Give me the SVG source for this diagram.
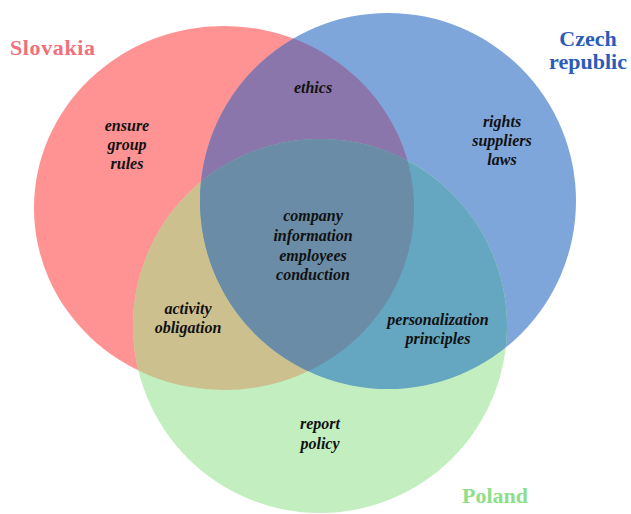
<svg xmlns="http://www.w3.org/2000/svg" width="631" height="514" viewBox="0 0 631 514">
<style>
.lbl{font-family:"Liberation Serif","DejaVu Serif",serif;font-weight:bold;font-style:italic;font-size:16px;fill:#111;text-anchor:middle}
.set{font-family:"Liberation Serif","DejaVu Serif",serif;font-weight:bold;font-size:22px}
</style>
<defs>
<clipPath id="cR"><ellipse cx="224" cy="208" rx="190" ry="182"/></clipPath>
<clipPath id="cB"><circle cx="388" cy="201" r="188"/></clipPath>
<clipPath id="cG"><circle cx="320" cy="326" r="187"/></clipPath>
</defs>
<rect width="631" height="514" fill="#ffffff"/>
<g id="sets">
<ellipse id="slovakia" cx="224" cy="208" rx="190" ry="182" fill="#FF9292"/>
<circle id="czech" cx="388" cy="201" r="188" fill="#7FA6DB"/>
<circle id="poland" cx="320" cy="326" r="187" fill="#C2EEC0"/>
<g clip-path="url(#cR)"><circle cx="388" cy="201" r="188" fill="#8B76AB"/><circle cx="320" cy="326" r="187" fill="#CBC08E"/></g>
<g clip-path="url(#cB)"><circle cx="320" cy="326" r="187" fill="#65A6C0"/></g>
<g clip-path="url(#cR)"><g clip-path="url(#cB)"><circle cx="320" cy="326" r="187" fill="#6A8CA6"/></g></g>
</g>
<g id="titles">
<text class="set" x="10" y="55" fill="#F2707A" textLength="85">Slovakia</text>
<text class="set" x="588" y="46" fill="#2A5CB8" text-anchor="middle">Czech</text>
<text class="set" x="588" y="69" fill="#2A5CB8" text-anchor="middle">republic</text>
<text class="set" x="462" y="503" fill="#8EDE8A">Poland</text>
</g>
<g id="labels">
<text class="lbl" x="127" y="131">ensure</text>
<text class="lbl" x="127" y="150">group</text>
<text class="lbl" x="127" y="169">rules</text>
<text class="lbl" x="313" y="93">ethics</text>
<text class="lbl" x="502" y="127">rights</text>
<text class="lbl" x="502" y="146">suppliers</text>
<text class="lbl" x="502" y="165">laws</text>
<text class="lbl" x="313" y="221">company</text>
<text class="lbl" x="313" y="241">information</text>
<text class="lbl" x="313" y="261">employees</text>
<text class="lbl" x="313" y="280">conduction</text>
<text class="lbl" x="188" y="314">activity</text>
<text class="lbl" x="188" y="333">obligation</text>
<text class="lbl" x="438" y="325">personalization</text>
<text class="lbl" x="438" y="344">principles</text>
<text class="lbl" x="320" y="429">report</text>
<text class="lbl" x="320" y="449">policy</text>
</g>
</svg>
